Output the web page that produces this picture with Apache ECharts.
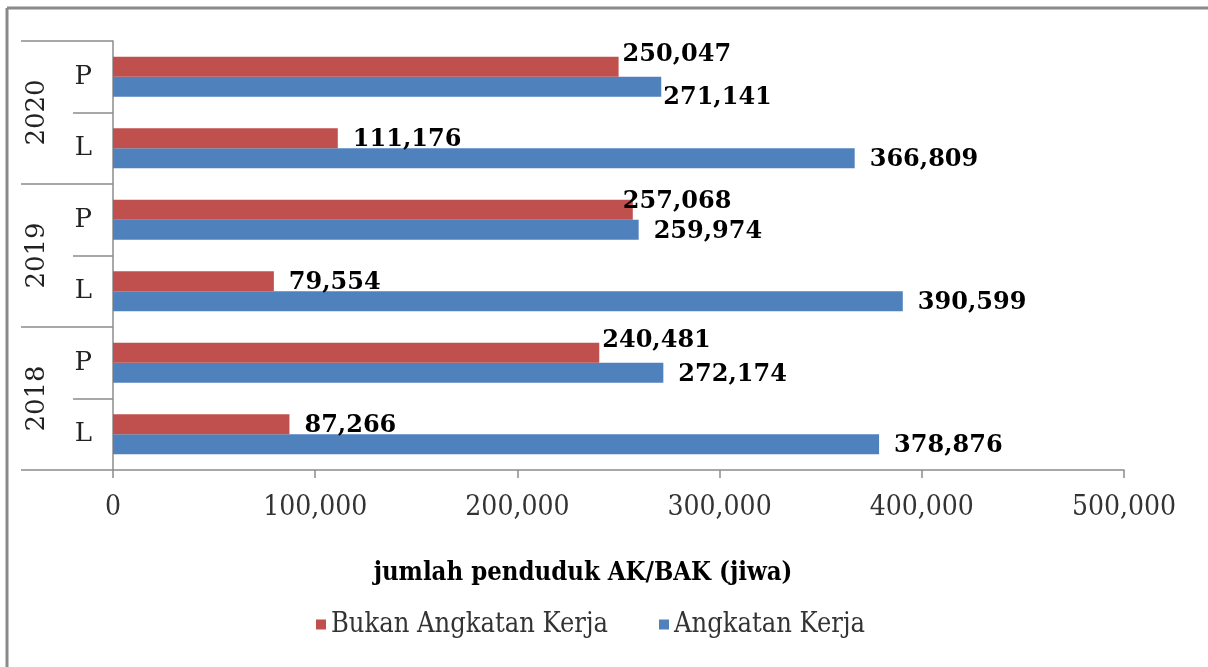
<!DOCTYPE html>
<html>
<head>
<meta charset="utf-8">
<script src="https://cdn.jsdelivr.net/npm/echarts@6/dist/echarts.min.js"></script>
<style>
  html, body { margin: 0; padding: 0; background: #fff; }
  #chart { width: 1208px; height: 667px; }
</style>
</head>
<body>
<div id="chart"></div>
<script>
// Categories run bottom-to-top: sex within year
const years = ['2018', '2019', '2020'];
const sexes = ['L', 'P', 'L', 'P', 'L', 'P'];
const bukanAngkatanKerja = [87266, 240481, 79554, 257068, 111176, 250047];
const angkatanKerja = [378876, 272174, 390599, 259974, 366809, 271141];
const xTicks = [0, 100000, 200000, 300000, 400000, 500000];

// Label placement: default offset, plus hand-placed labels on the crowded rows
const LABEL_DEFAULT = [15, 2];
const bukanLabelNudge = { 1: [3, -12], 3: [-10, -8], 5: [4, -12] };
const angkatanLabelNudge = { 5: [2, 11] };

const SERIF_C = '"DejaVu Serif Condensed", "DejaVu Serif", serif';
const SERIF = '"DejaVu Serif", serif';
const fmt = v => v.toLocaleString('en-US');

function buildItems(values, nudges) {
  return values.map((v, i) => ({
    value: v,
    label: { offset: nudges[i] || LABEL_DEFAULT }
  }));
}

const labelStyle = {
  show: true,
  position: 'right',
  distance: 0,
  fontFamily: SERIF,
  fontWeight: 'bold',
  fontSize: 24,
  color: '#000',
  formatter: p => fmt(p.value)
};

const chart = echarts.init(document.getElementById('chart'));
chart.setOption({
  animation: false,
  backgroundColor: '#fff',
  grid: { left: 113, right: 84, top: 41, bottom: 197 },
  xAxis: {
    type: 'value',
    min: xTicks[0],
    max: xTicks[xTicks.length - 1],
    interval: xTicks[1] - xTicks[0],
    splitLine: { show: false },
    axisLine: { show: true, lineStyle: { color: '#8c8c8c', width: 1.5 } },
    axisTick: { show: true, length: 8, lineStyle: { color: '#8c8c8c', width: 1.5 } },
    axisLabel: {
      margin: 24,
      fontFamily: SERIF_C,
      fontSize: 28,
      color: '#333',
      formatter: v => fmt(v)
    }
  },
  yAxis: [
    {
      type: 'category',
      data: sexes,
      position: 'left',
      axisLine: { show: true, lineStyle: { color: '#8c8c8c', width: 1.5 } },
      axisTick: { show: true, length: 40, alignWithLabel: false, lineStyle: { color: '#8c8c8c', width: 1.5 } },
      axisLabel: { margin: 21, fontFamily: SERIF, fontSize: 26, color: '#222' }
    },
    {
      type: 'category',
      data: years,
      position: 'left',
      axisLine: { show: false },
      axisTick: { show: true, length: 92, alignWithLabel: false, lineStyle: { color: '#8c8c8c', width: 1.5 } },
      axisLabel: { margin: 63, rotate: 90, fontFamily: SERIF, fontSize: 26, color: '#222' }
    }
  ],
  legend: {
    left: 316,
    top: 611,
    padding: 0,
    icon: 'rect',
    itemWidth: 10,
    itemHeight: 10,
    itemGap: 51,
    textStyle: { fontFamily: SERIF_C, fontSize: 27, color: '#333' },
    data: ['Bukan Angkatan Kerja', 'Angkatan Kerja']
  },
  graphic: [
    {
      type: 'text',
      x: 583,
      y: 573,
      style: {
        text: 'jumlah penduduk AK/BAK (jiwa)',
        fontFamily: SERIF_C,
        fontWeight: 'bold',
        fontSize: 25.5,
        fill: '#000',
        textAlign: 'center',
        textVerticalAlign: 'middle'
      }
    },
    { type: 'line', shape: { x1: 7, y1: 8, x2: 1208, y2: 8 }, style: { stroke: '#8a8a8a', lineWidth: 3 } },
    { type: 'line', shape: { x1: 7, y1: 8, x2: 7, y2: 667 }, style: { stroke: '#8a8a8a', lineWidth: 3 } }
  ],
  series: [
    {
      name: 'Bukan Angkatan Kerja',
      type: 'bar',
      yAxisIndex: 0,
      barWidth: 20,
      barGap: '0%',
      itemStyle: { color: '#C0504D' },
      label: labelStyle,
      z: 3,
      data: buildItems(bukanAngkatanKerja, bukanLabelNudge)
    },
    {
      name: 'Angkatan Kerja',
      type: 'bar',
      yAxisIndex: 0,
      barWidth: 20,
      barGap: '0%',
      itemStyle: { color: '#4F81BD' },
      label: labelStyle,
      z: 2,
      data: buildItems(angkatanKerja, angkatanLabelNudge)
    }
  ]
});
</script>
</body>
</html>
